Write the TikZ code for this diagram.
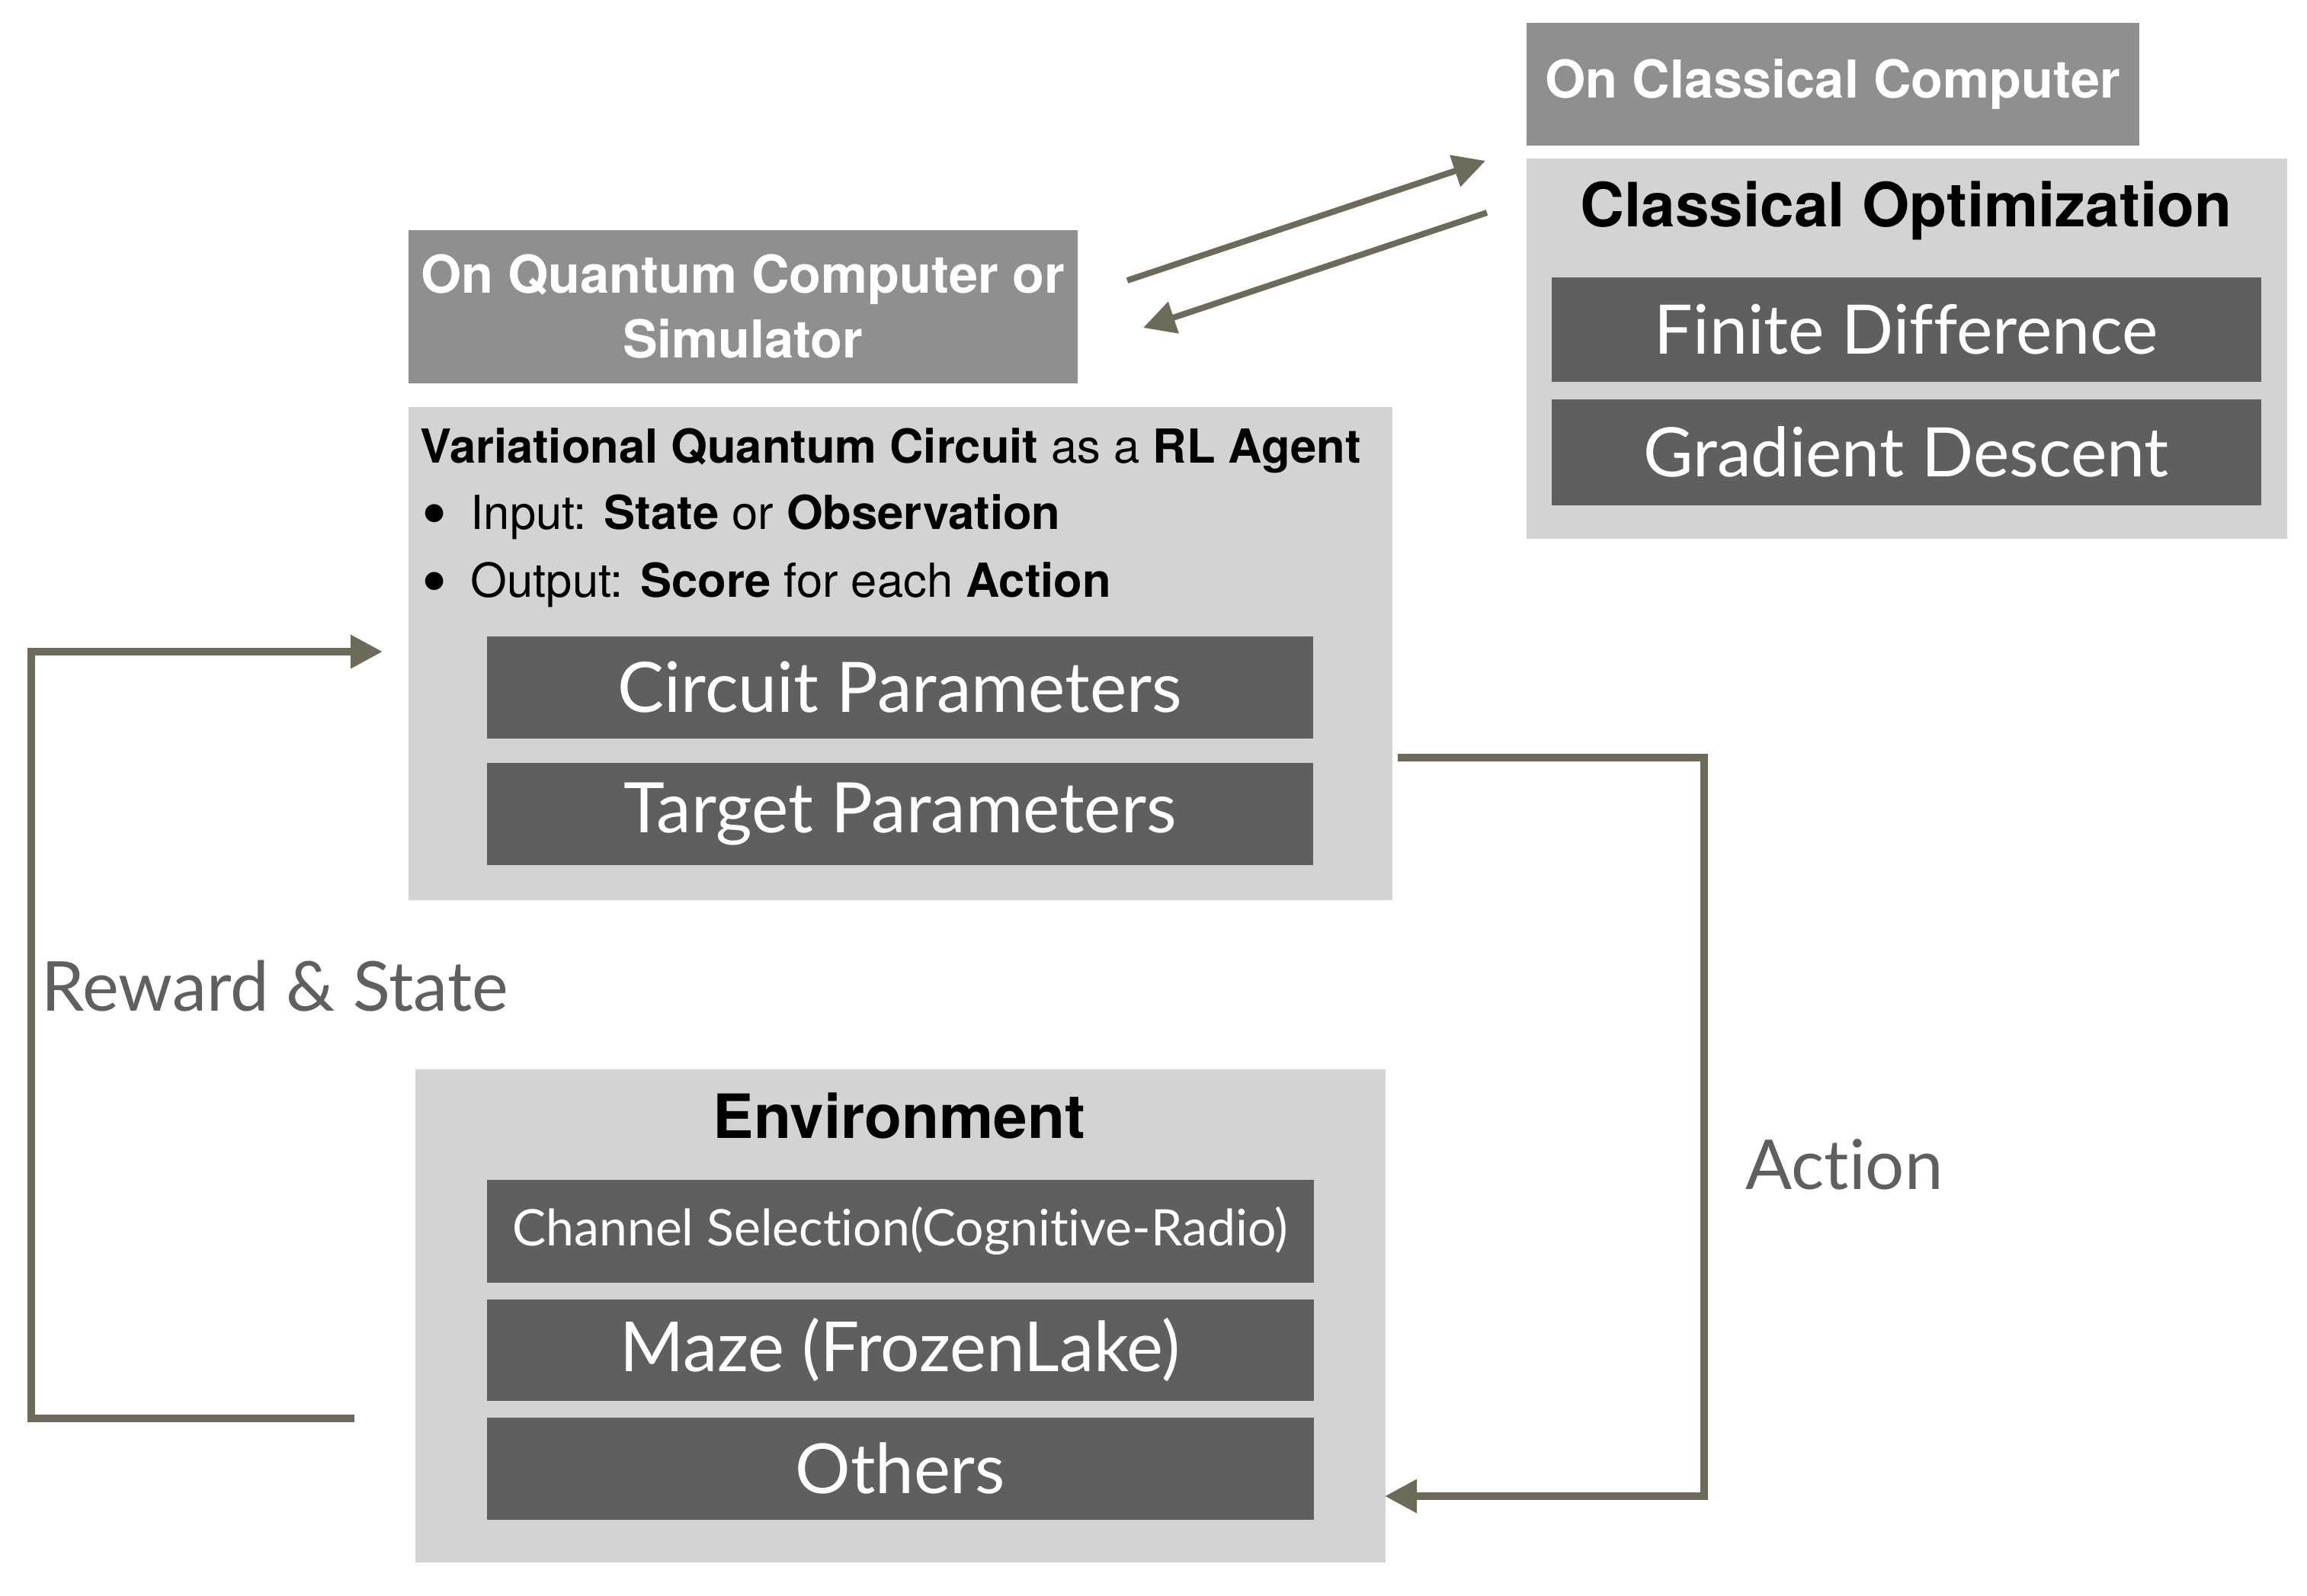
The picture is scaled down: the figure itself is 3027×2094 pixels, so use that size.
\documentclass[tikz,border=0pt]{standalone}
\usepackage{fontspec}
\setmainfont{TeX Gyre Heros}
\newfontfamily\gill[Ligatures=NoCommon]{Lato}
\usetikzlibrary{arrows.meta}
\definecolor{hdrgray}{RGB}{143,143,143}
\definecolor{panelgray}{RGB}{211,211,211}
\definecolor{slotgray}{RGB}{95,95,95}
\definecolor{flowcol}{RGB}{109,106,91}
\definecolor{labelgray}{RGB}{95,95,95}
\newcommand{\bulletmark}{\makebox[6.6mm][l]{\hspace{0.2mm}\raisebox{-3.6pt}{\fontsize{27}{27}\selectfont\textbullet}}}
\begin{document}
\begin{tikzpicture}[x=0.1mm, y=-0.1mm,
  hdr/.style={fill=hdrgray, text=white, anchor=north west, inner sep=0pt,
    align=center, font=\fontsize{19.5}{24.2}\selectfont\bfseries},
  panel/.style={fill=panelgray, anchor=north west, inner sep=0pt},
  slot/.style={fill=slotgray, text=white, anchor=north west, inner sep=0pt},
  agtext/.style={anchor=base west, inner sep=0pt, font=\fontsize{17.5}{21}\selectfont},
  paneltitle/.style={anchor=base, inner sep=0pt, font=\fontsize{22.8}{27}\selectfont\bfseries},
  lbl/.style={anchor=base west, inner sep=0pt, text=labelgray, font=\gill\fontsize{25.7}{30}\selectfont},
  flow/.style={draw=flowcol, line width=0.95mm, -{Triangle[length=4.2mm,width=4.2mm]}},
  thinflow/.style={flow, line width=0.8mm}]
  \useasboundingbox (0,0) rectangle (3027,2094);

  % quantum side
  \node[hdr, minimum width=87.8mm, minimum height=20.1mm] (qhead) at (535,301)
    {On Quantum Computer or\\Simulator};
  \node[panel, minimum width=129.1mm, minimum height=64.7mm] (agent) at (535,533) {};
  \node[agtext] (vqctitle) at (551,607)
    {\textbf{Variational Quantum Circuit} as a \textbf{RL Agent}};
  \node[agtext] (vqcin) at (551,694)
    {\bulletmark Input: \textbf{State} or \textbf{Observation}};
  \node[agtext] (vqcout) at (551,783)
    {\bulletmark Output: \textbf{Score} for each \textbf{Action}};
  \node[slot, minimum width=108.4mm, minimum height=13.4mm,
    font=\gill\fontsize{26}{30}\selectfont] (circ) at (638,834) {Circuit Parameters};
  \node[slot, minimum width=108.4mm, minimum height=13.4mm,
    font=\gill\fontsize{26}{30}\selectfont] (targ) at (638,1000) {Target Parameters};

  % classical side
  \node[hdr, minimum width=80.4mm, minimum height=16.1mm] (chead) at (2002,29)
    {On Classical Computer};
  \node[panel, minimum width=99.8mm, minimum height=49.9mm] (opt) at (2002,207) {};
  \node[paneltitle] (opttitle) at (2501,298) {Classical Optimization};
  \node[slot, minimum width=93.1mm, minimum height=13.7mm,
    font=\gill\fontsize{25.5}{30}\selectfont] (fin) at (2035,363) {Finite Difference};
  \node[slot, minimum width=93.1mm, minimum height=13.9mm,
    font=\gill\fontsize{25.5}{30}\selectfont] (grad) at (2035,523) {Gradient Descent};

  % environment
  \node[panel, minimum width=127.3mm, minimum height=64.7mm] (env) at (544,1402) {};
  \node[paneltitle] (envtitle) at (1180,1493) {Environment};
  \node[slot, minimum width=108.5mm, minimum height=13.5mm,
    font=\gill\fontsize{18.8}{23}\selectfont] (chan) at (638,1547) {Channel Selection(Cognitive-Radio)};
  \node[slot, minimum width=108.5mm, minimum height=13.3mm,
    font=\gill\fontsize{25.8}{30}\selectfont] (maze) at (638,1704) {Maze (FrozenLake)};
  \node[slot, minimum width=108.5mm, minimum height=13.4mm,
    font=\gill\fontsize{25.8}{30}\selectfont] (oth) at (638,1859) {Others};

  % connectors
  \coordinate (upfrom) at (1479,368);
  \coordinate (upto) at (1949,211);
  \coordinate (downfrom) at (1951,279);
  \coordinate (downto) at (1500,430);
  \draw[thinflow] (upfrom) -- (upto);
  \draw[thinflow] (downfrom) -- (downto);

  \coordinate (rsfrom) at (465,1861);
  \coordinate (rsto) at (502,855);
  \draw[flow] (rsfrom) -- (41,1861) |- (rsto);
  \node[lbl] (rslabel) at (54,1326) {Reward \& State};

  \coordinate (actfrom) at (1834,994);
  \coordinate (actto) at (1817,1963);
  \draw[flow] (actfrom) -- (2236,994) |- (actto);
  \node[lbl] (actlabel) at (2290,1560) {Action};
\end{tikzpicture}
\end{document}
